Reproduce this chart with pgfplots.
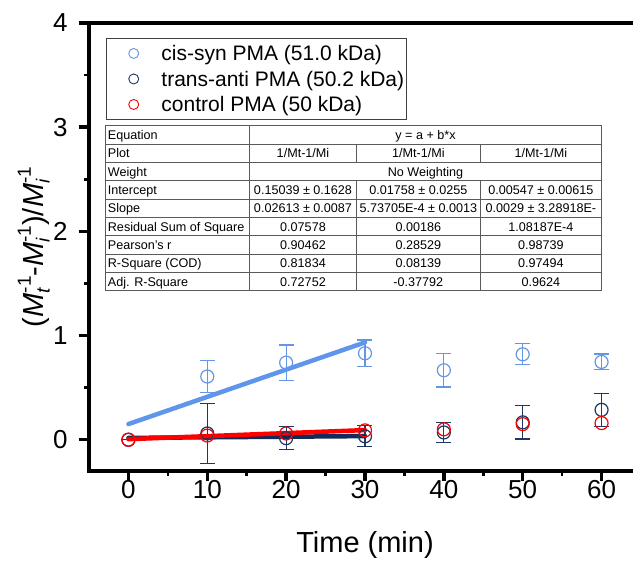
\documentclass[border=0pt]{standalone}
\usepackage{pgfplots}
\pgfplotsset{compat=1.18}
\usepackage{fontspec}
\setmainfont{Liberation Sans}
\definecolor{cisc}{RGB}{100,150,230}
\definecolor{cisl}{RGB}{95,150,235}
\definecolor{transc}{RGB}{30,55,100}
\definecolor{transl}{RGB}{18,42,88}
\definecolor{ctrlc}{RGB}{255,0,0}
\definecolor{tabline}{RGB}{90,90,90}
\newcommand{\SubSup}[2]{\rlap{\raisebox{-0.22em}{\fontsize{19}{19}\selectfont\itshape #1}}\raisebox{0.42em}{\fontsize{19}{19}\selectfont #2}}
\begin{document}
\begin{tikzpicture}
\begin{axis}[
  at={(0pt,0pt)}, anchor=south west,
  scale only axis, width=552pt, height=448pt,
  xmin=-5, xmax=65, ymin=-0.3, ymax=4,
  xtick={0,10,20,30,40,50,60}, ytick={0,1,2,3,4},
  minor x tick num=1, minor y tick num=1,
  tick align=outside, xtick pos=bottom, ytick pos=left,
  major tick length=10pt, minor tick length=5pt,
  every major tick/.style={line width=3.5pt, black},
  every minor tick/.style={line width=2.5pt, black},
  axis line style={line width=3.5pt, black},
  /pgf/number format/assume math mode=true,
  tick label style={font=\fontsize{26}{30}\selectfont},
  yticklabel style={xshift=-8pt},
  xticklabel style={yshift=4pt},
  xlabel={Time (min)},
  ylabel={(\textit{M}\SubSup{t}{-1}-\textit{M}\SubSup{i}{-1})/\textit{M}\SubSup{i}{-1}},
  every axis x label/.style={at={(axis description cs:0.5,0)}, anchor=base, yshift=-82pt, font=\fontsize{29}{34}\selectfont},
  every axis y label/.style={at={(axis description cs:-0.1,0.5)}, anchor=center, rotate=90, font=\fontsize{29}{34}\selectfont},
  legend cell align=left,
  legend style={at={(axis description cs:0.0303,0.9658)}, anchor=north west,
    draw=black!75, line width=0.8pt, inner xsep=2pt, inner ysep=2pt,
    row sep=0pt, column sep=0pt, font=\fontsize{21}{25}\selectfont,
    cells={anchor=base west},
    nodes={inner sep=0pt, text height=20.25pt, text depth=5.25pt}},
  legend image code/.code={\path[draw=none,fill=none] (-25.6pt,0pt) -- (27.7pt,0pt); \draw[#1, mark size=5pt, line width=0.9pt] plot coordinates {(0pt,7.5pt)};},
]
\addplot[only marks, mark=o, mark size=6.5pt, color=cisc, line width=1.2pt,
  error bars/.cd, y dir=both, y explicit,
  error bar style={line width=1.2pt},
  error mark options={rotate=90, mark size=7.5pt, line width=1.2pt}]
  table[x=x, y=y, y error=e] {
x y e
0 0 0
10 0.607 0.155
20 0.74 0.17
30 0.83 0.127
40 0.667 0.16
50 0.82 0.10
60 0.747 0.075
};
\addlegendentry{cis-syn PMA (51.0 kDa)}
\addplot[only marks, mark=o, mark size=6.5pt, color=transc, line width=1.2pt,
  error bars/.cd, y dir=both, y explicit,
  error bar style={line width=1.2pt},
  error mark options={rotate=90, mark size=7.5pt, line width=1.2pt}]
  table[x=x, y=y, y error=e] {
x y e
0 0 0
10 0.06 0.29
20 0.015 0.112
30 0.033 0.10
40 0.07 0.095
50 0.167 0.16
60 0.287 0.157
};
\addlegendentry{trans-anti PMA (50.2 kDa)}
\addplot[only marks, mark=o, mark size=6.5pt, color=ctrlc, line width=1.2pt]
  table[x=x, y=y] {
x y
0 0
10 0.04
20 0.06
30 0.09
40 0.10
50 0.15
60 0.16
};
\addlegendentry{control PMA (50 kDa)}
\addplot[forget plot, color=cisl, line width=4.5pt, line cap=round] coordinates {(0,0.15039) (30,0.93429)};
\addplot[forget plot, color=transl, line width=4.5pt, line cap=round] coordinates {(0,0.01758) (30,0.03479)};
\addplot[forget plot, color=ctrlc, line width=4.5pt, line cap=round] coordinates {(0,0.00547) (30,0.09247)};
\end{axis}
% results table
\begin{scope}[font=\fontsize{12.6}{15}\selectfont]
\draw[tabline, line width=0.8pt] (16.7pt,180.3pt) rectangle (512.7pt,345.3pt);
\foreach \i in {1,...,8} {
  \draw[tabline, line width=0.8pt] (16.7pt,{345.3pt-\i*18.333pt}) -- (512.7pt,{345.3pt-\i*18.333pt});
}
\draw[tabline, line width=0.8pt] (160.3pt,180.3pt) -- (160.3pt,345.3pt);
\foreach \xx in {267.7,391} {
  \draw[tabline, line width=0.8pt] (\xx pt,326.967pt) -- (\xx pt,308.633pt);
  \draw[tabline, line width=0.8pt] (\xx pt,290.3pt) -- (\xx pt,180.3pt);
}
\foreach \yy/\t in {331.6/Equation, 313.3/Plot, 294.97/Weight, 276.63/Intercept, 258.3/Slope, 239.97/Residual Sum of Square, 221.63/Pearson's r, 203.3/R-Square (COD), 184.97/Adj. R-Square} {
  \node[anchor=base west, inner sep=0pt] at (18.7pt,\yy pt) {\t};
}
\node[anchor=base, inner sep=0pt] at (336.5pt,331.6pt) {y = a + b*x};
\node[anchor=base, inner sep=0pt] at (336.5pt,294.97pt) {No Weighting};
\foreach \yy/\a/\b/\c in {313.3/1\slash Mt-1\slash Mi/1\slash Mt-1\slash Mi/1\slash Mt-1\slash Mi,
  276.63/0.15039 ± 0.1628/0.01758 ± 0.0255/0.00547 ± 0.00615,
  258.3/0.02613 ± 0.0087/5.73705E-4 ± 0.0013/0.0029 ± 3.28918E-,
  239.97/0.07578/0.00186/1.08187E-4,
  221.63/0.90462/0.28529/0.98739,
  203.3/0.81834/0.08139/0.97494,
  184.97/0.72752/-0.37792/0.9624} {
  \node[anchor=base, inner sep=0pt] at (214pt,\yy pt) {\a};
  \node[anchor=base, inner sep=0pt] at (329.35pt,\yy pt) {\b};
  \node[anchor=base, inner sep=0pt] at (451.85pt,\yy pt) {\c};
}
\end{scope}
\pgfresetboundingbox
\useasboundingbox (-89pt,-90pt) rectangle (544pt,471pt);
\end{tikzpicture}
\end{document}
